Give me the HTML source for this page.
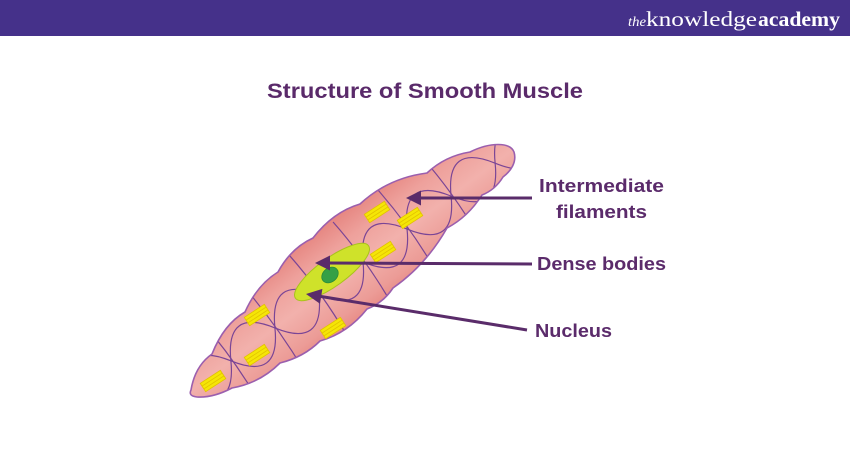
<!DOCTYPE html>
<html><head><meta charset="utf-8"><style>
html,body{margin:0;padding:0;background:#fff;}
svg{display:block;}
</style></head><body>
<svg width="850" height="450" viewBox="0 0 850 450" xmlns="http://www.w3.org/2000/svg">
<defs>
<linearGradient id="cg" gradientUnits="userSpaceOnUse" x1="318" y1="227" x2="384" y2="315">
<stop offset="0" stop-color="#e5847f"/>
<stop offset="0.25" stop-color="#eea19c"/>
<stop offset="0.5" stop-color="#f2b1ac"/>
<stop offset="0.78" stop-color="#ec9c97"/>
<stop offset="1" stop-color="#e47f79"/>
</linearGradient>
<clipPath id="cc"><path id="cellp" d="M191,390 Q195,366 212,354 Q224,324 245,312 Q257,285 278,272 Q291,248 313,238 Q333,212 360,204 Q388,178 427,173 Q445,156 470,152 C490,142 510,142 514,152 C517,162 511,171 503,177 Q495,190 482,195 Q468,217 447,228 Q426,265 393,288 Q383,303 367,309 Q348,333 320,341 Q304,357 280,363 Q260,383 232,388 Q213,398 197,397 Q188,396 191,390 Z"/></clipPath>
</defs>
<rect x="0" y="0" width="850" height="36" fill="#45318a"/>
<text x="628" y="26" font-family="Liberation Serif, serif" font-style="italic" font-size="14" fill="#fff" textLength="18" lengthAdjust="spacingAndGlyphs">the</text>
<text x="646" y="26" font-family="Liberation Serif, serif" font-size="21" fill="#fff" textLength="111" lengthAdjust="spacingAndGlyphs">knowledge</text>
<text x="758" y="26" font-family="Liberation Serif, serif" font-weight="bold" font-size="21" fill="#fff" textLength="82" lengthAdjust="spacingAndGlyphs">academy</text>

<text x="267" y="98" font-family="Liberation Sans, sans-serif" font-weight="bold" font-size="21" fill="#5a2a6a" textLength="316" lengthAdjust="spacingAndGlyphs">Structure of Smooth Muscle</text>

<!-- cell -->
<use href="#cellp" fill="url(#cg)"/>
<g clip-path="url(#cc)">
<g transform="translate(351,271) rotate(-36.8)" fill="none" stroke="#7a4596" stroke-width="1.2">
<path d="M-205,0 Q-177.5,46 -150,0 T-95,0 T-40,0 T15,0 T70,0 T125,0 T180,0 T235,0"/>
<path d="M-205,0 Q-177.5,-46 -150,0 T-95,0 T-40,0 T15,0 T70,0 T125,0 T180,0 T235,0"/>
<path d="M-150,-50 Q-146,0 -152,50"/>
<path d="M-95,-50 Q-92,0 -97,50"/>
<path d="M-40,-50 Q-36,0 -42,50"/>
<path d="M15,-50 Q19,0 13,50"/>
<path d="M70,-50 Q74,0 68,50"/>
<path d="M125,-50 Q129,0 123,50"/>
</g>
</g>
<use href="#cellp" fill="none" stroke="#9b5fae" stroke-width="1.6"/>

<!-- yellow striations -->
<g fill="#f5e606" stroke="#e2c200" stroke-width="0.8">
<g transform="translate(377,212) rotate(-33)"><rect x="-12" y="-5" width="24" height="10"/><path d="M-12,-1.7H12M-12,1.7H12"/></g>
<g transform="translate(410,218) rotate(-33)"><rect x="-12" y="-5" width="24" height="10"/><path d="M-12,-1.7H12M-12,1.7H12"/></g>
<g transform="translate(383,252) rotate(-33)"><rect x="-12" y="-5" width="24" height="10"/><path d="M-12,-1.7H12M-12,1.7H12"/></g>
<g transform="translate(257,315) rotate(-33)"><rect x="-12" y="-5" width="24" height="10"/><path d="M-12,-1.7H12M-12,1.7H12"/></g>
<g transform="translate(333,328) rotate(-33)"><rect x="-12" y="-5" width="24" height="10"/><path d="M-12,-1.7H12M-12,1.7H12"/></g>
<g transform="translate(257,355) rotate(-33)"><rect x="-12" y="-5" width="24" height="10"/><path d="M-12,-1.7H12M-12,1.7H12"/></g>
<g transform="translate(213,381) rotate(-33)"><rect x="-12" y="-5" width="24" height="10"/><path d="M-12,-1.7H12M-12,1.7H12"/></g>
</g>

<!-- nucleus -->
<ellipse cx="332" cy="272" rx="45" ry="14" transform="rotate(-35.7 332 272)" fill="#cfe22a" stroke="#a9c21c" stroke-width="1"/>
<ellipse cx="330" cy="275" rx="9" ry="7" transform="rotate(-40 330 275)" fill="#35a046" stroke="#2a8a38" stroke-width="0.8"/>

<!-- arrows -->
<g stroke="#5a2c6a" stroke-width="3" fill="none">
<line x1="532" y1="198" x2="418" y2="198"/>
<line x1="532" y1="264" x2="326" y2="263"/>
<line x1="527" y1="330" x2="318" y2="296"/>
</g>
<g fill="#5a2c6a">
<polygon points="406,198 421,190.5 421,205.5"/>
<polygon points="315,263 330,255.5 330,270.5"/>
<polygon points="306,294 322.4,288.9 320,303.7"/>
</g>

<!-- labels -->
<g font-family="Liberation Sans, sans-serif" font-weight="bold" font-size="18" fill="#5b2b6b">
<text x="539" y="192" textLength="125" lengthAdjust="spacingAndGlyphs">Intermediate</text>
<text x="556" y="218" textLength="91" lengthAdjust="spacingAndGlyphs">filaments</text>
<text x="537" y="270" textLength="129" lengthAdjust="spacingAndGlyphs">Dense bodies</text>
<text x="535" y="337" textLength="77" lengthAdjust="spacingAndGlyphs">Nucleus</text>
</g>
</svg>
</body></html>
